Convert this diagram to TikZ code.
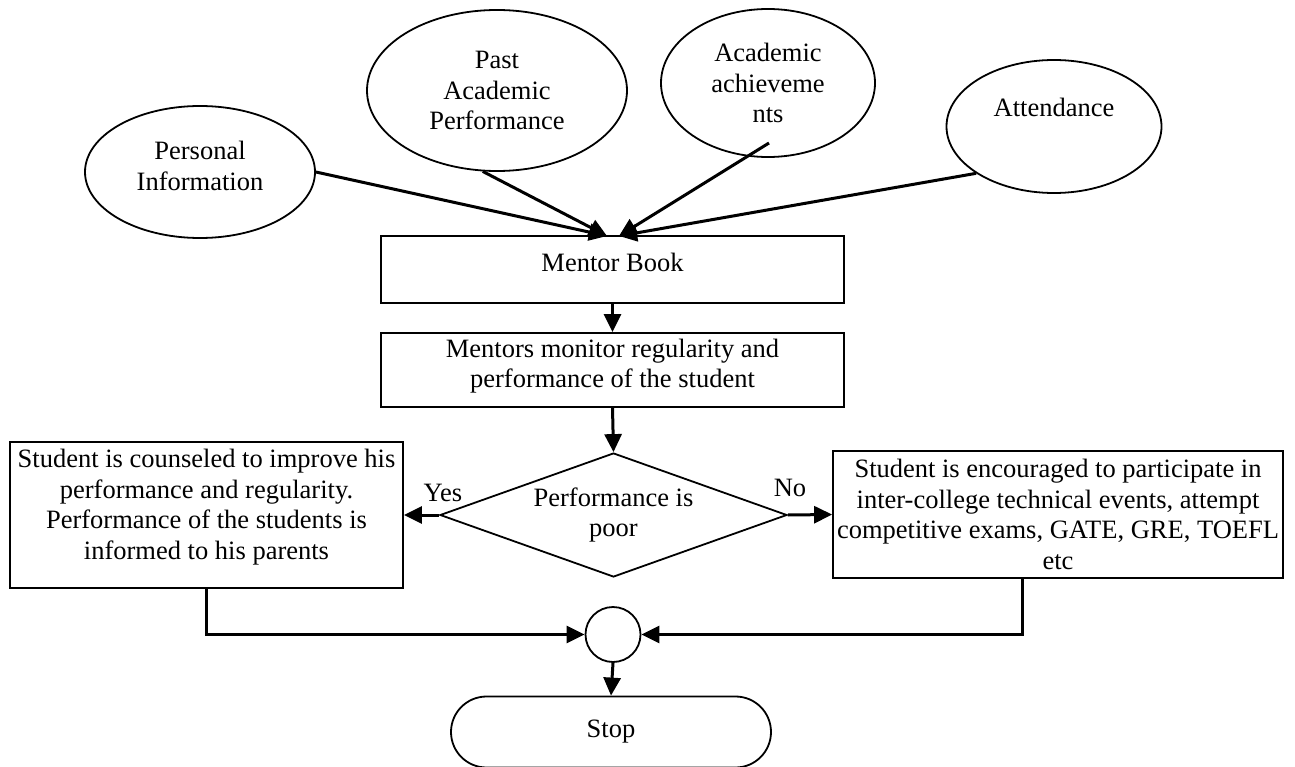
\documentclass[tikz,border=0pt]{standalone}
\usepackage{fontspec}
\setmainfont{Liberation Serif}
\usetikzlibrary{shapes.geometric,shapes.misc,arrows.meta,calc}
\begin{document}
\begin{tikzpicture}[x=1pt,y=-1pt,
  every node/.style={font=\fontsize{26.5}{30.7}\selectfont, inner sep=0pt},
  oval/.style={draw, ellipse, line width=1.8pt, align=center},
  box/.style={draw, rectangle, line width=1.8pt, align=center},
  txt/.style={align=center},
  arr/.style={line width=3pt, -{Triangle[length=18pt,width=17pt]}},
  ]
\useasboundingbox (0,0) rectangle (1295,767);

% input ellipses
\node[oval, minimum width=230pt, minimum height=132pt] (pers) at (200,172) {};
\node[txt] (perst) at (200,166) {Personal\\Information};
\node[oval, minimum width=260pt, minimum height=161pt] (past) at (497,90.5) {Past\\Academic\\Performance};
\node[oval, minimum width=214pt, minimum height=148pt] (acad) at (768,83) {Academic\\achieveme\\nts};
\node[oval, minimum width=215pt, minimum height=133pt] (att) at (1054,126.5) {};
\node[txt] (attt) at (1054,107) {Attendance};

% mentor book
\node[box, minimum width=463pt, minimum height=67pt] (mb) at (612.5,269.5) {};
\node[txt] (mbt) at (612.5,262) {Mentor Book};
\coordinate (mbl) at (607,236);
\coordinate (mbr) at (619,236);
\coordinate (acs) at (769,143);

\draw[arr] (pers.east) -- (mbl);
\draw[arr] (past.260) -- (mbl);
\draw[arr] (acs) -- (mbr);
\draw[arr] (att.211.5) -- (mbr);

% monitor
\node[box, minimum width=463pt, minimum height=74pt] (mon) at (612.5,370) {};
\node[txt] (mont) at (612.5,366) {Mentors monitor regularity and\\performance of the student};
\draw[arr] (mb.south) -- (mon.north);

% decision
\node[draw, diamond, aspect=2.8, line width=1.8pt, align=center, minimum width=347pt, minimum height=124pt] (dec) at (613.5,515) {Performance is\\poor};
\draw[arr] (mon.south) -- (dec.north);

% yes branch
\node[box, minimum width=393pt, minimum height=146pt] (yes) at (206.5,515) {};
\node[txt] (yest) at (206.5,507) {Student is counseled to improve his\\performance and regularity.\\Performance of the students is\\informed to his parents};
\draw[arr] (dec.west) -- (yes.east);
\node (yl) at (443,493) {Yes};

% no branch
\node[box, minimum width=450pt, minimum height=127pt] (no) at (1058,514.5) {Student is encouraged to participate in\\inter-college technical events, attempt\\competitive exams, GATE, GRE, TOEFL\\etc};
\draw[arr] (dec.east) -- (no.west);
\node (nl) at (790,488) {No};

% join
\node[draw, circle, line width=1.8pt, minimum size=55pt] (join) at (613,634.5) {};
\coordinate (yb) at (206,588);
\coordinate (nb) at (1022,578);
\draw[arr] (yb) |- (join.west);
\draw[arr] (nb) |- (join.east);

% stop
\node[draw, rounded rectangle, line width=1.8pt, minimum width=320pt, minimum height=71pt] (stop) at (611,732) {Stop};
\draw[arr] (join.south) -- (stop.north);
\end{tikzpicture}
\end{document}
